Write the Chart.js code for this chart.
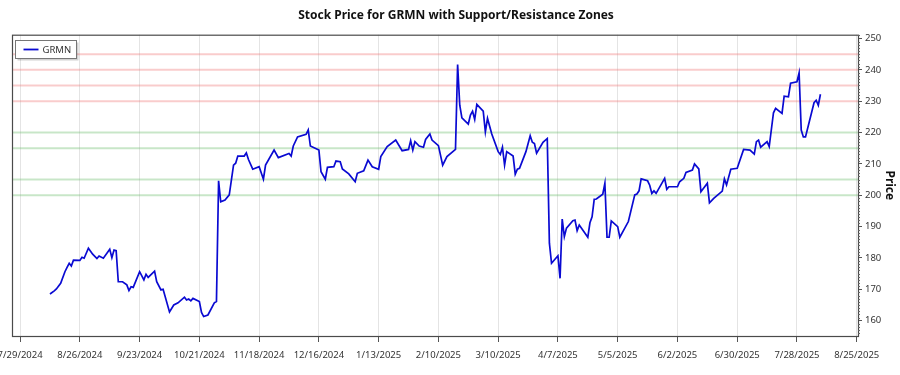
<!DOCTYPE html>
<html>
<head>
<meta charset="utf-8">
<script src="https://cdn.jsdelivr.net/npm/chart.js@4.4.1/dist/chart.umd.min.js"></script>
<style>
html,body{margin:0;padding:0;background:#fff;}
#wrap{width:900px;height:375px;}
</style>
</head>
<body>
<div id="wrap"><canvas id="priceChart" width="900" height="375"></canvas></div>
<script>
// day 0 = 2024-07-29
const baseDate=Date.UTC(2024,6,29);
const xTickDays=[0,28,56,84,112,140,168,196,224,252,280,308,336,364,392];
const yTickValues=[160,170,180,190,200,210,220,230,240,250];
const resistanceLevels=[230,235,240,245];
const supportLevels=[200,205,215,220];
const tickerName='GRMN';

const days=[14,16,17,19,21,22,23,24,25,28,29,30,32,34,36,37,39,42,43,44,45,46,48,50,51,52,53,56,58,59,60,63,64,66,67,70,
72,74,77,78,79,80,81,84,85,86,88,91,92,93,94,96,98,100,101,102,105,106,107,109,112,114,115,119,121,126,127,128,130,134,135,136,
140,141,143,144,147,148,150,151,154,157,158,161,163,165,168,169,172,176,179,182,183,184,185,187,189,190,192,193,196,198,200,
204,205,206,207,210,211,212,213,214,217,218,219,221,224,225,226,227,228,231,232,233,234,237,239,240,241,242,245,247,248,249,
252,253,254,255,256,259,260,261,262,266,267,268,269,270,273,274,275,276,277,280,281,283,285,288,289,290,291,294,295,296,297,298,
302,303,304,308,309,311,312,315,316,318,319,322,323,325,329,330,331,333,336,339,342,344,345,346,347,350,351,353,354,357,358,
360,361,364,365,366,367,368,372,373,374,375];
const prices=[168.5,169.5,170.1,171.9,175.6,177.0,178.3,177.4,179.3,179.2,180.2,179.9,183.1,181.2,179.8,180.6,179.9,182.8,180.1,182.5,182.3,172.4,172.4,171.4,169.6,170.8,170.6,175.6,173.0,174.8,173.8,175.8,172.4,169.8,170.0,162.8,
165.0,165.7,167.5,166.6,166.9,166.3,167.1,166.1,162.6,161.3,161.8,165.7,166.1,204.6,197.9,198.5,200.1,209.6,210.2,212.5,212.5,213.5,211.4,208.3,209.1,205.1,209.6,214.4,212.0,213.3,212.5,215.7,218.6,219.4,220.8,215.7,
214.4,207.5,205.1,208.9,209.1,210.9,210.7,208.4,206.8,204.3,207.0,207.8,211.2,209.1,208.3,212.3,215.5,217.6,214.2,214.6,217.4,214.4,217.1,215.7,215.3,217.8,219.5,217.6,215.8,209.6,212.3,
214.6,241.7,228.7,224.7,222.7,225.6,226.8,224.2,229.0,226.8,220.2,224.5,219.5,213.9,213.0,215.3,209.6,213.9,212.5,206.7,208.3,208.6,213.9,219.0,216.9,216.5,213.4,216.9,218.1,184.7,178.3,
180.7,173.5,192.4,186.8,189.5,191.9,192.1,188.7,190.5,186.6,191.2,193.1,198.7,198.8,200.3,203.8,186.6,186.6,191.8,190.0,186.6,189.1,191.6,200.1,200.4,201.4,205.2,204.6,203.2,200.6,201.4,200.6,
205.4,201.9,202.7,202.7,204.3,205.4,207.3,208.0,210.0,208.4,201.1,203.8,197.6,199.0,201.3,205.2,203.3,208.3,208.6,214.6,214.4,213.1,217.1,217.6,215.3,217.1,215.5,226.3,227.7,226.1,231.6,
231.4,235.7,236.2,239.0,220.8,218.6,218.6,229.5,230.3,228.7,232.2];

const FONT="'Noto Sans', 'DejaVu Sans', sans-serif";

function fmtDay(d){
const dt=new Date(baseDate+d*86400000);
return (dt.getUTCMonth()+1)+'/'+dt.getUTCDate()+'/'+dt.getUTCFullYear();
}

// zone lines, plot frame, minor y ticks
const zonePlugin={
id:'zones',
beforeDatasetsDraw(chart){
const {ctx,chartArea:a,scales:{y}}=chart;
ctx.save();
ctx.lineWidth=2;
resistanceLevels.forEach(v=>{
const py=y.getPixelForValue(v);
ctx.strokeStyle='rgba(240,120,120,0.38)';
ctx.beginPath();ctx.moveTo(a.left,py);ctx.lineTo(a.right,py);ctx.stroke();
});
supportLevels.forEach(v=>{
const py=y.getPixelForValue(v);
ctx.strokeStyle='rgba(110,190,110,0.38)';
ctx.beginPath();ctx.moveTo(a.left,py);ctx.lineTo(a.right,py);ctx.stroke();
});
ctx.restore();
},
afterDraw(chart){
const {ctx,chartArea:a,scales:{y}}=chart;
ctx.save();
ctx.strokeStyle='#4a4a4a';
ctx.lineWidth=1.2;
ctx.strokeRect(a.left+0.5,a.top+0.5,a.right-a.left,a.bottom-a.top);
// minor ticks on price axis
ctx.lineWidth=1;
ctx.strokeStyle='#666';
for(let v=Math.ceil(y.min);v<=y.max;v++){
if(v%10===0)continue;
const py=Math.round(y.getPixelForValue(v))+0.5;
ctx.beginPath();ctx.moveTo(a.right,py);ctx.lineTo(a.right+2,py);ctx.stroke();
}
// legend box
const lx=15.5,ly=40.5,lw=61,lh=18;
ctx.fillStyle='rgba(0,0,0,0.18)';
ctx.fillRect(lx+2,ly+2,lw,lh);
ctx.fillStyle='#fff';
ctx.fillRect(lx,ly,lw,lh);
ctx.strokeStyle='#777';
ctx.strokeRect(lx,ly,lw,lh);
const ds=chart.data.datasets[0];
ctx.strokeStyle=ds.borderColor;
ctx.lineWidth=1.8;
ctx.beginPath();ctx.moveTo(lx+8,ly+9);ctx.lineTo(lx+23,ly+9);ctx.stroke();
ctx.fillStyle='#333';
ctx.font='9.5px '+FONT;
ctx.textBaseline='middle';
ctx.fillText(ds.label,lx+27,ly+9.5);
ctx.restore();
}
};

new Chart(document.getElementById('priceChart'),{
type:'line',
data:{datasets:[{
label:tickerName,
data:days.map((d,i)=>({x:d,y:prices[i]})),
borderColor:'#0a0ad2',
borderWidth:1.7,
pointRadius:0,
tension:0,
fill:false
}]},
options:{
responsive:false,
animation:false,
layout:{padding:{left:12,right:0,top:0,bottom:0}},
plugins:{
legend:{display:false},
tooltip:{enabled:false},
title:{display:true,text:'Stock Price for GRMN with Support/Resistance Zones',color:'#111',
font:{family:FONT,size:12,weight:'bold'},padding:{top:8,bottom:12.3}}
},
scales:{
x:{
type:'linear',
min:-3.8,max:392.6,
afterBuildTicks:s=>{s.ticks=xTickDays.map(v=>({value:v}));},
afterFit:s=>{s.height=39;s.paddingLeft=0;s.paddingRight=0;},
border:{display:false},
grid:{color:'#e4e4e4',lineWidth:1,tickColor:'#555',tickLength:6},
ticks:{autoSkip:false,maxRotation:0,color:'#333',padding:8,font:{family:FONT,size:9.5},callback:v=>fmtDay(v)}
},
y:{
position:'right',
min:155.1,max:251.2,
afterBuildTicks:s=>{s.ticks=yTickValues.map(v=>({value:v}));},
afterFit:s=>{s.width=42;},
border:{display:false},
grid:{drawOnChartArea:false,tickColor:'#555',tickLength:4},
ticks:{color:'#333',padding:3,font:{family:FONT,size:9.5}},
title:{display:true,text:'Price',color:'#111',font:{family:FONT,size:12,weight:'bold'},padding:{top:3,bottom:0}}
}
}
},
plugins:[zonePlugin]
});
</script>
</body>
</html>
